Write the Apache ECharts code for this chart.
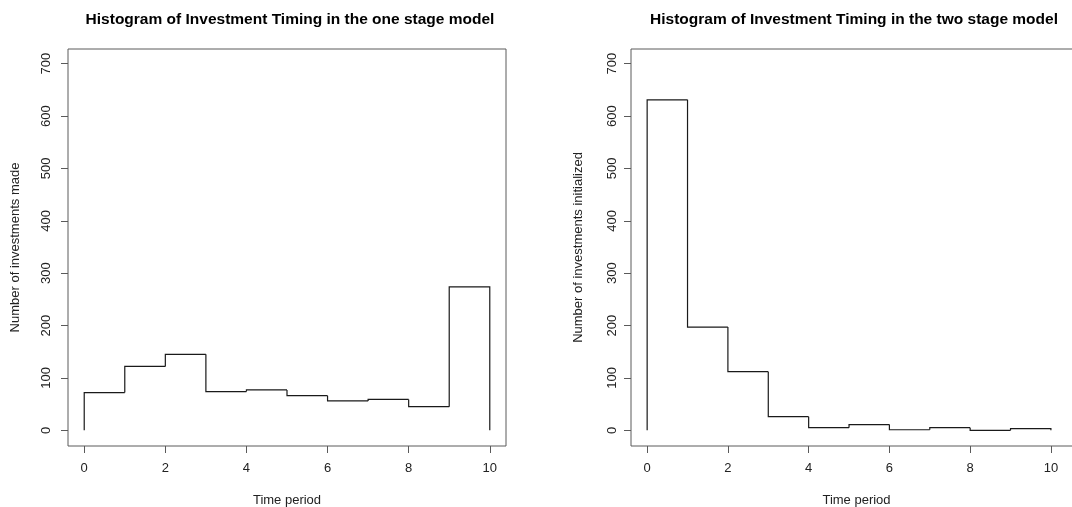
<!DOCTYPE html>
<html>
<head>
<meta charset="utf-8">
<script src="https://cdn.jsdelivr.net/npm/echarts@6/dist/echarts.min.js"></script>
<style>
html,body{margin:0;padding:0;background:#fff;}
#chart{width:1072px;height:507px;}
</style>
</head>
<body>
<div id="chart"></div>
<script>
// Data
const breaks = [0, 1, 2, 3, 4, 5, 6, 7, 8, 9, 10];
const oneStageCounts = [72, 122, 145, 74, 77, 66, 56, 59, 45, 274];
const twoStageCounts = [631, 197, 112, 26, 5, 11, 1, 5, 0, 3];
const xTicks = [0, 2, 4, 6, 8, 10];
const yTicks = [0, 100, 200, 300, 400, 500, 600, 700];
const titles = [
  'Histogram of Investment Timing in the one stage model',
  'Histogram of Investment Timing in the two stage model'
];
const xName = 'Time period';
const yNames = ['Number of investments made', 'Number of investments initialized'];

// one item per bin: [left edge, right edge, count, previous count, isLast]
function binItems(counts) {
  return counts.map((c, i) => [breaks[i], breaks[i + 1], c, i === 0 ? 0 : counts[i - 1], i === counts.length - 1 ? 1 : 0]);
}

const FONT = '"Liberation Sans", Arial, sans-serif';
const BOX = '#5a5a5a';
const TXT = '#222';
const LINE = '#1a1a1a';

function renderStep(params, api) {
  const x0 = api.value(0), x1 = api.value(1), c = api.value(2), p = api.value(3), last = api.value(4);
  const pts = [api.coord([x0, p]), api.coord([x0, c]), api.coord([x1, c])];
  if (last) pts.push(api.coord([x1, 0]));
  return {
    type: 'polyline',
    shape: { points: pts },
    style: { stroke: LINE, lineWidth: 1.2, fill: null }
  };
}

function xAxisCfg(gi, max) {
  return {
    type: 'value', gridIndex: gi, min: -0.4, max: max,
    name: xName, nameLocation: 'middle', nameGap: 48,
    nameTextStyle: { fontFamily: FONT, fontSize: 13, color: TXT },
    axisLine: { show: false, onZero: false },
    splitLine: { show: false },
    axisTick: { show: true, inside: false, length: 7, customValues: xTicks, lineStyle: { color: BOX, width: 1 } },
    axisLabel: { customValues: xTicks, margin: 16, fontFamily: FONT, fontSize: 13, color: TXT }
  };
}
function yAxisCfg(gi, name, margin) {
  return {
    type: 'value', gridIndex: gi, min: -30, max: 728,
    name: name, nameLocation: 'middle', nameGap: 46, nameRotate: 90,
    nameTextStyle: { fontFamily: FONT, fontSize: 13, color: TXT },
    axisLine: { show: false, onZero: false },
    splitLine: { show: false },
    axisTick: { show: true, inside: false, length: 7, customValues: yTicks, lineStyle: { color: BOX, width: 1 } },
    axisLabel: { customValues: yTicks, rotate: 90, margin: margin, fontFamily: FONT, fontSize: 13, color: TXT }
  };
}

const chart = echarts.init(document.getElementById('chart'), null, { renderer: 'canvas' });
chart.setOption({
  animation: false,
  backgroundColor: '#fff',
  title: [
    { text: titles[0], left: 285, top: 7, textAlign: 'center',
      textStyle: { fontFamily: FONT, fontSize: 15.5, fontWeight: 'bold', color: '#000' } },
    { text: titles[1], left: 849, top: 7, textAlign: 'center',
      textStyle: { fontFamily: FONT, fontSize: 15.5, fontWeight: 'bold', color: '#000' } }
  ],
  grid: [
    { left: 68, top: 49, width: 438, height: 397, show: true, borderColor: BOX, borderWidth: 1,
      backgroundColor: 'transparent', containLabel: false, outerBoundsMode: 'none' },
    { left: 631, top: 49, width: 451, height: 397, show: true, borderColor: BOX, borderWidth: 1,
      backgroundColor: 'transparent', containLabel: false, outerBoundsMode: 'none' }
  ],
  xAxis: [xAxisCfg(0, 10.4), xAxisCfg(1, 10.77)],
  yAxis: [yAxisCfg(0, yNames[0], 15), yAxisCfg(1, yNames[1], 12)],
  series: [
    { type: 'custom', xAxisIndex: 0, yAxisIndex: 0, data: binItems(oneStageCounts),
      renderItem: renderStep, silent: true, clip: false,
      encode: { x: [0, 1], y: [2, 3] } },
    { type: 'custom', xAxisIndex: 1, yAxisIndex: 1, data: binItems(twoStageCounts),
      renderItem: renderStep, silent: true, clip: false,
      encode: { x: [0, 1], y: [2, 3] } }
  ]
});
</script>
</body>
</html>
